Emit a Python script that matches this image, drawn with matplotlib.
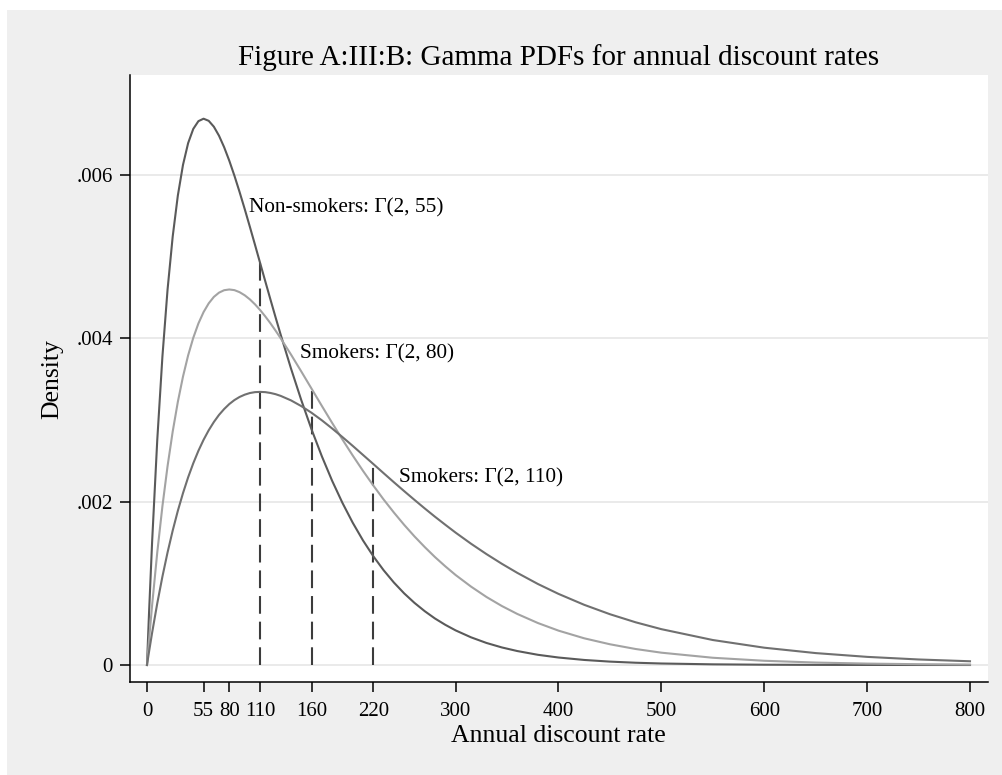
import matplotlib
matplotlib.use("Agg")
import matplotlib.pyplot as plt
from matplotlib.patches import Rectangle

# ---- data ----
rate = [0, 2, 5, 10, 15, 20, 25, 30, 35, 40, 45, 50, 55, 60, 65, 70, 75, 80, 85,
        90, 95, 100, 105, 110, 115, 120, 125, 130, 140, 150, 160, 170, 180, 190,
        200, 210, 220, 230, 240, 250, 260, 270, 280, 290, 300, 315, 330, 345,
        360, 380, 400, 425, 450, 475, 500, 550, 600, 650, 700, 750, 800]
nonsmokers_55 = [0, 0.000638, 0.001509, 0.002756, 0.003775, 0.004596, 0.005246,
                 0.005748, 0.006123, 0.006390, 0.006564, 0.006659, 0.006689,
                 0.006663, 0.006591, 0.006481, 0.006340, 0.006175, 0.005991,
                 0.005792, 0.005583, 0.005366, 0.005145, 0.004921, 0.004698,
                 0.004476, 0.004257, 0.004043, 0.003630, 0.003243, 0.002884,
                 0.002555, 0.002255, 0.001985, 0.001742, 0.001525, 0.001332,
                 0.001161, 0.001010, 0.000877, 0.000761, 0.000659, 0.000569,
                 0.000492, 0.000424, 0.000339, 0.000270, 0.000215, 0.000171,
                 0.000125, 0.0000918, 0.0000619, 0.0000416, 0.0000279,
                 0.0000186, 0.0000083, 0.0000036, 0.0000016, 0.0000007,
                 0.0000003, 0.0000001]
smokers_80 = [0, 0.000305, 0.000734, 0.001379, 0.001943, 0.002434, 0.002858,
              0.003222, 0.003531, 0.003791, 0.004006, 0.004182, 0.004321,
              0.004428, 0.004507, 0.004559, 0.004589, 0.004598, 0.004590,
              0.004565, 0.004527, 0.004477, 0.004416, 0.004346, 0.004268,
              0.004184, 0.004094, 0.004000, 0.003801, 0.003594, 0.003383,
              0.003172, 0.002964, 0.002761, 0.002565, 0.002377, 0.002198,
              0.002027, 0.001867, 0.001716, 0.001575, 0.001444, 0.001321,
              0.001208, 0.001102, 0.000960, 0.000833, 0.000722, 0.000625,
              0.000514, 0.000421, 0.000327, 0.000254, 0.000196, 0.000151,
              0.0000888, 0.0000519, 0.0000301, 0.0000173, 0.0000099, 0.0000057]
smokers_110 = [0, 0.000162, 0.000395, 0.000755, 0.001082, 0.001378, 0.001646,
               0.001888, 0.002104, 0.002298, 0.002470, 0.002623, 0.002757,
               0.002874, 0.002975, 0.003062, 0.003134, 0.003195, 0.003244,
               0.003282, 0.003310, 0.003330, 0.003341, 0.003344, 0.003341,
               0.003331, 0.003316, 0.003295, 0.003240, 0.003170, 0.003088,
               0.002996, 0.002896, 0.002791, 0.002683, 0.002572, 0.002461,
               0.002349, 0.002238, 0.002129, 0.002022, 0.001917, 0.001815,
               0.001717, 0.001621, 0.001485, 0.001358, 0.001239, 0.001128,
               0.000992, 0.000871, 0.000737, 0.000622, 0.000523, 0.000439,
               0.000306, 0.000212, 0.000146, 0.0000997, 0.0000678, 0.0000459]

mean_rate = [110, 160, 220]
mean_density = [0.004921, 0.003383, 0.002461]

labels = ["Non-smokers: \u0393(2, 55)", "Smokers: \u0393(2, 80)", "Smokers: \u0393(2, 110)"]
label_x = [99, 149, 245]
label_y = [0.00560, 0.00381, 0.00229]

xticks = [0, 55, 80, 110, 160, 220, 300, 400, 500, 600, 700, 800]
yticks = [0, 0.002, 0.004, 0.006]
yticklabels = ["0", ".002", ".004", ".006"]

title = "Figure A:III:B: Gamma PDFs for annual discount rates"
xlabel = "Annual discount rate"
ylabel = "Density"

# ---- figure ----
plt.rcParams["font.family"] = ["Liberation Serif", "DejaVu Serif"]
W, H = 1003, 775
fig = plt.figure(figsize=(W / 100, H / 100), dpi=100)
fig.patch.set_facecolor("white")
fig.patches.append(Rectangle((7 / W, 0), 1, 765 / H, transform=fig.transFigure,
                             facecolor="#efefef", edgecolor="none", zorder=-10))

ax = fig.add_axes([130 / W, (H - 682) / H, (988 - 130) / W, (682 - 75) / H])
ax.set_facecolor("white")
ax.set_xlim(-16.5, 817.5)
ax.set_ylim(-0.000208, 0.007224)

for v in yticks:
    ax.axhline(v, color="#e6e6e6", lw=1.2, zorder=0)

ax.plot(rate, nonsmokers_55, color="#5a5a5a", lw=1.5, zorder=3)
ax.plot(rate, smokers_80, color="#a3a3a3", lw=1.5, zorder=3)
ax.plot(rate, smokers_110, color="#707070", lw=1.5, zorder=3)

for mx, my in zip(mean_rate, mean_density):
    ax.plot([mx, mx], [0, my], color="#3c3c3c", lw=1.5, dashes=(8.5, 3.8), zorder=2)

for t, lx, ly in zip(labels, label_x, label_y):
    ax.text(lx, ly, t, fontsize=15.3, ha="left", va="center", color="black")

ax.set_xticks(xticks)
ax.set_xticklabels([str(v) for v in xticks])
ax.set_yticks(yticks)
ax.set_yticklabels(yticklabels)
ax.tick_params(axis="both", direction="out", length=7.2, width=1.1, labelsize=15,
               color="black")
ax.tick_params(axis="x", pad=7.5)
ax.tick_params(axis="y", pad=5)

for s in ["top", "right"]:
    ax.spines[s].set_visible(False)
for s in ["left", "bottom"]:
    ax.spines[s].set_linewidth(1.1)
    ax.spines[s].set_color("black")

fig.text(559 / W, (H - 65) / H, title, ha="center", va="baseline", fontsize=21)
fig.text(558 / W, (H - 742) / H, xlabel, ha="center", va="baseline", fontsize=18.5)
fig.text(52 / W, (H - 379) / H, ylabel, ha="center", va="center", rotation=90,
         fontsize=18.5)

fig.savefig("out.png", dpi=100, facecolor=fig.get_facecolor())
